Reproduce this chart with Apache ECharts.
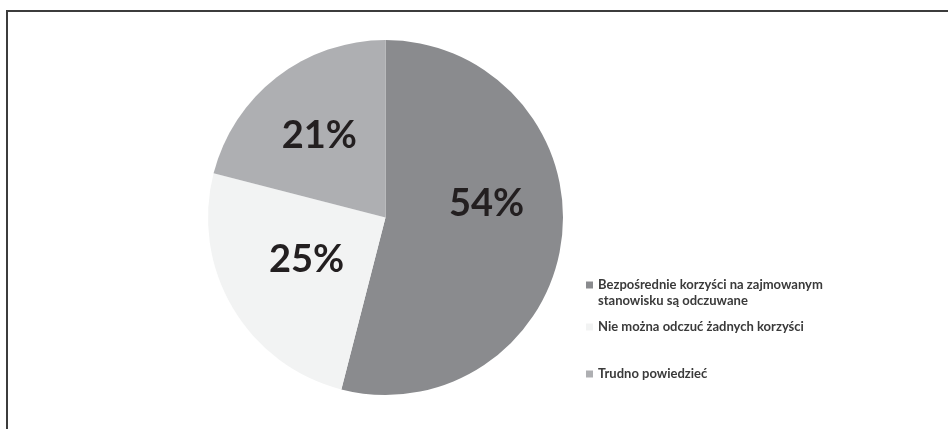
<!DOCTYPE html>
<html>
<head>
<meta charset="utf-8">
<script src="https://cdn.jsdelivr.net/npm/echarts@6/dist/echarts.min.js"></script>
<style>
  html, body { margin: 0; padding: 0; background: #fff; }
  #chart { width: 948px; height: 429px; }
</style>
</head>
<body>
<div id="chart"></div>
<script>
// Survey answers and their shares (%)
const categories = [
  'Bezpośrednie korzyści na zajmowanym stanowisku są odczuwane',
  'Nie można odczuć żadnych korzyści',
  'Trudno powiedzieć'
];
const shares = [54, 25, 21];
const legendLines = [
  'Bezpośrednie korzyści na zajmowanym\nstanowisku są odczuwane',
  'Nie można odczuć żadnych korzyści',
  'Trudno powiedzieć'
];

const sliceColors = ['#8a8b8e', '#f2f3f3', '#aeafb2'];
const labelOffsets = [[10, -25], [0, -4], [-10, -9]];
const legendTops = [277, 319, 366];

const chart = echarts.init(document.getElementById('chart'), null, { renderer: 'canvas' });

const legendStyle = {
  fontFamily: 'Lato, "Open Sans", sans-serif',
  fontWeight: 'bold',
  fontSize: 13,
  color: '#3a3a3a',
  lineHeight: 16
};

// first entry wraps onto two lines: its swatch sits beside the first line
const legends = categories.map((name, i) => ({
  data: [name],
  left: 586,
  top: legendTops[i],
  orient: 'vertical',
  icon: i === 0 ? 'path://M0,0H7V7H0Z M7,23' : 'rect',
  itemWidth: 7,
  itemHeight: i === 0 ? 23 : 7,
  itemGap: 0,
  padding: 0,
  selectedMode: false,
  formatter: () => legendLines[i],
  textStyle: legendStyle
}));

chart.setOption({
  animation: false,
  backgroundColor: '#ffffff',
  graphic: [
    {
      type: 'polyline',
      shape: { points: [[7, 429], [7, 11], [948, 11]] },
      style: { stroke: '#3c3c3c', lineWidth: 2, fill: null }
    }
  ],
  legend: legends,
  series: [{
    type: 'pie',
    center: [385.5, 217.5],
    radius: [0, 177.5],
    startAngle: 90,
    clockwise: true,
    silent: true,
    label: {
      show: true,
      position: 'inside',
      formatter: '{c}%',
      fontFamily: 'Lato, "Open Sans", sans-serif',
      fontWeight: 'bold',
      fontSize: 38,
      color: '#231f20'
    },
    labelLine: { show: false },
    itemStyle: { borderWidth: 0 },
    data: categories.map((name, i) => ({
      name,
      value: shares[i],
      itemStyle: { color: sliceColors[i] },
      label: { offset: labelOffsets[i] }
    }))
  }]
});
</script>
</body>
</html>
